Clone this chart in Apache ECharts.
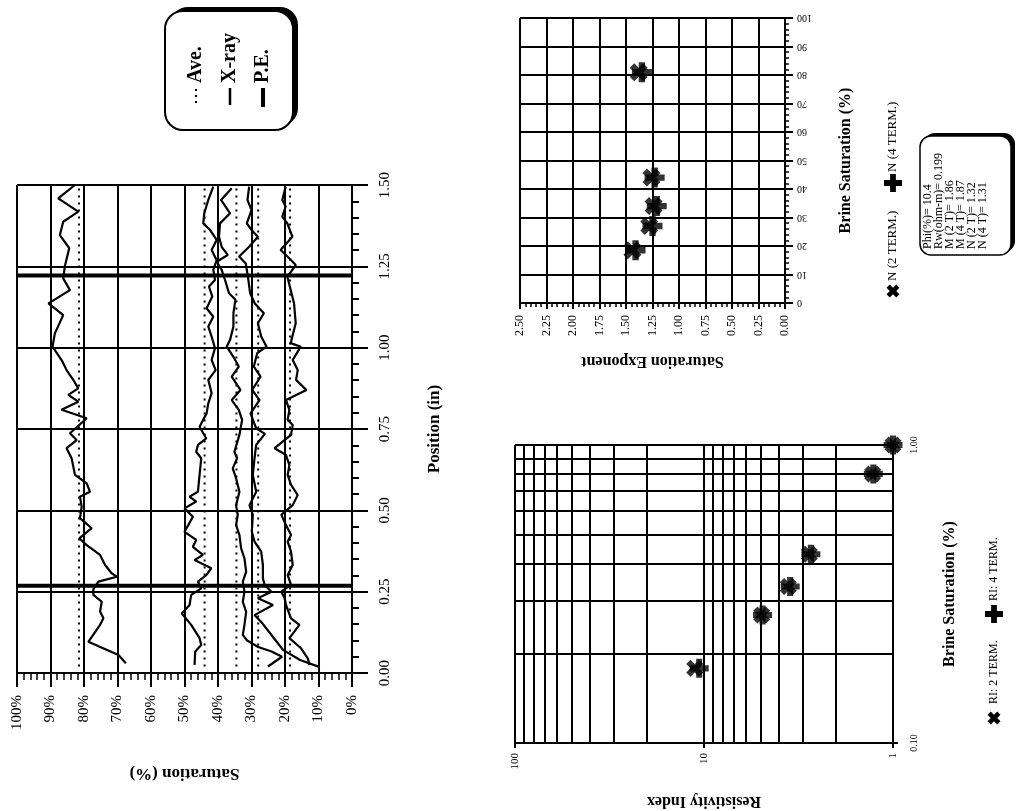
<!DOCTYPE html>
<html><head><meta charset="utf-8">
<script src="https://cdn.jsdelivr.net/npm/echarts@6/dist/echarts.min.js"></script>
<style>html,body{margin:0;padding:0;background:#fff}#c{width:1017px;height:811px}</style>
</head><body><div id="c"></div>
<script>
// ---------------- DATA ----------------
// Chart A: saturation profiles, points are [saturation %, position in]
const xray81 = [[82.7,1.500],[87.7,1.459],[81.7,1.418],[86.2,1.387],[87.2,1.346],[84.4,1.306],[85.7,1.251],[86.2,1.213],[84.2,1.177],[90.6,1.136],[86.2,1.100],[88.7,1.044],[89.4,1.003],[86.4,0.957],[85.2,0.931],[83.2,0.901],[81.7,0.875],[84.7,0.855],[81.7,0.834],[86.7,0.809],[79.2,0.783],[82.0,0.757],[84.2,0.737],[82.2,0.716],[85.2,0.691],[83.7,0.660],[82.7,0.609],[79.2,0.583],[78.2,0.557],[81.2,0.542],[80.7,0.511],[81.2,0.476],[77.7,0.445],[81.4,0.414],[79.2,0.393],[75.2,0.363],[73.7,0.332],[71.7,0.306],[70.2,0.296],[75.7,0.281],[77.2,0.258],[77.2,0.240],[74.7,0.219],[75.2,0.189],[74.2,0.168],[75.2,0.148],[78.7,0.096],[69.7,0.055],[67.5,0.030]];
const xray45 = [[41.4,1.495],[42.9,1.454],[44.1,1.413],[44.4,1.382],[42.4,1.362],[40.4,1.331],[41.9,1.300],[40.4,1.269],[41.4,1.239],[40.9,1.208],[42.7,1.188],[41.7,1.157],[43.4,1.121],[41.4,1.095],[42.9,1.065],[41.9,1.034],[40.9,0.998],[41.9,0.962],[40.7,0.931],[42.9,0.901],[41.9,0.860],[42.9,0.829],[43.4,0.798],[45.5,0.757],[43.5,0.721],[46.0,0.701],[46.5,0.680],[45.0,0.660],[45.5,0.609],[46.0,0.557],[48.5,0.542],[46.5,0.527],[50.0,0.506],[47.5,0.480],[50.0,0.434],[46.5,0.409],[47.5,0.388],[44.5,0.363],[47.0,0.347],[42.0,0.322],[43.5,0.301],[46.0,0.281],[45.0,0.260],[48.0,0.240],[48.5,0.209],[50.8,0.183],[48.0,0.148],[45.5,0.107],[45.0,0.086],[46.8,0.066],[47.0,0.025]];
const xray35 = [[35.9,1.490],[39.1,1.454],[36.4,1.413],[39.4,1.382],[39.7,1.341],[38.9,1.310],[37.1,1.285],[40.4,1.264],[38.9,1.239],[37.9,1.208],[36.7,1.167],[34.8,1.147],[35.4,1.106],[35.4,1.065],[36.4,1.024],[37.4,1.003],[35.4,0.972],[33.8,0.942],[35.9,0.911],[33.3,0.870],[35.9,0.839],[33.8,0.809],[32.8,0.778],[33.6,0.732],[35.1,0.680],[34.3,0.660],[35.6,0.629],[34.6,0.598],[33.6,0.557],[34.6,0.516],[34.1,0.486],[34.6,0.455],[33.6,0.424],[33.1,0.383],[32.1,0.352],[31.6,0.311],[32.6,0.281],[32.1,0.250],[32.6,0.219],[31.6,0.188],[32.1,0.148],[32.6,0.117],[31.3,0.100],[28.0,0.080],[24.0,0.066],[20.9,0.050],[25.1,0.020]];
const xray29 = [[30.7,1.495],[31.2,1.454],[30.0,1.423],[31.4,1.382],[30.0,1.362],[28.1,1.341],[30.7,1.310],[33.7,1.280],[31.7,1.259],[31.0,1.213],[30.4,1.167],[29.0,1.136],[26.3,1.106],[28.1,1.075],[27.1,1.034],[25.5,1.003],[28.3,0.983],[29.3,0.942],[27.3,0.911],[29.8,0.870],[27.6,0.839],[30.3,0.798],[28.6,0.752],[26.0,0.735],[28.6,0.701],[29.1,0.660],[29.6,0.609],[28.6,0.557],[30.6,0.516],[29.6,0.486],[29.9,0.434],[29.1,0.404],[27.1,0.373],[26.6,0.332],[26.6,0.291],[26.1,0.271],[24.1,0.250],[28.1,0.230],[23.6,0.209],[29.1,0.178],[27.1,0.157],[24.5,0.123],[20.6,0.071],[15.5,0.040],[9.6,0.018]];
const xray19 = [[19.8,1.495],[20.8,1.454],[19.8,1.434],[20.8,1.403],[19.3,1.382],[17.8,1.341],[21.3,1.300],[18.3,1.270],[16.8,1.254],[19.3,1.218],[18.3,1.177],[17.3,1.136],[16.8,1.075],[18.3,1.014],[15.3,1.003],[17.7,0.962],[16.2,0.931],[16.7,0.901],[13.6,0.870],[19.7,0.839],[18.7,0.809],[19.2,0.778],[17.7,0.762],[18.2,0.732],[23.1,0.691],[19.7,0.670],[18.7,0.639],[19.2,0.609],[18.2,0.578],[16.2,0.547],[17.7,0.516],[21.1,0.486],[19.7,0.455],[18.2,0.424],[19.2,0.404],[18.2,0.373],[17.7,0.332],[19.2,0.301],[18.2,0.271],[21.1,0.250],[20.1,0.230],[19.7,0.209],[18.2,0.168],[15.7,0.148],[17.2,0.127],[18.7,0.107],[15.2,0.076],[13.2,0.045],[12.7,0.025]];
const aveLevels = [81.5, 44, 34.5, 28, 18.5];      // dotted average saturation (%)
const aveSpan = [0.02, 1.5];                       // position range of average lines (in)
const peBoundaries = [0.268, 1.222];               // potential electrode positions (in)

// Chart B: saturation exponent vs brine saturation
const brineB = [18.5, 27, 34, 44, 81];
const nExp2 = [1.44, 1.28, 1.24, 1.26, 1.38];
const nExp4 = [1.41, 1.25, 1.21, 1.23, 1.35];

// Chart C: resistivity index vs brine saturation (log-log)
const brineC = [0.178, 0.269, 0.335, 0.43, 0.80, 1.0];
const ri2 = [11.2, 4.95, 3.58, 2.77, 1.28, 1.0];
const ri4 = [10.6, 4.90, 3.50, 2.72, 1.27, 1.0];
const riMinorTicks = [2,3,4,5,6,7,8,9,20,30,40,50,60,70,80,90];
const brineMinorTicks = [0.2,0.3,0.4,0.5,0.6,0.7,0.8,0.9];

const infoLines = ['Phi(%)= 10.4','Rw(ohm-m)= 0.199','M (2 T)= 1.86','M (4 T)= 1.87','N (2 T)= 1.32','N (4 T)= 1.31'];

// ---------------- STYLE ----------------
const F = 'Liberation Serif';
const BK = '#000';
const X_PTS = [[0,2.5],[2.5,0],[5,2.5],[7.5,0],[10,2.5],[7.5,5],[10,7.5],[7.5,10],[5,7.5],[2.5,10],[0,7.5],[2.5,5]];
const P_PTS = [[3.4,0],[6.6,0],[6.6,3.4],[10,3.4],[10,6.6],[6.6,6.6],[6.6,10],[3.4,10],[3.4,6.6],[0,6.6],[0,3.4],[3.4,3.4]];
const toPath = pts => 'path://M' + pts.map(p => p[0] + ',' + p[1]).join(' L') + ' Z';

function axisCommon(o) {
  return Object.assign({
    axisLine: {show: true, lineStyle: {color: BK, width: 2}},
    splitLine: {show: true, lineStyle: {color: BK, width: 2}},
    axisTick: {show: true, inside: false, length: 6, lineStyle: {color: BK, width: 2}},
    nameLocation: 'middle',
    nameTextStyle: {fontFamily: F, fontWeight: 'bold', fontSize: 16, color: BK},
  }, o);
}

const chart = echarts.init(document.getElementById('c'), null, {renderer: 'canvas'});

const series = [];
// chart A profiles
[xray81, xray45, xray35, xray29, xray19].forEach(d => {
  series.push({name: 'X-ray', type: 'line', xAxisIndex: 0, yAxisIndex: 0, data: d,
    symbol: 'none', silent: true, lineStyle: {color: BK, width: 2.2}, z: 5});
});
aveLevels.forEach(v => {
  series.push({name: 'Ave.', type: 'line', xAxisIndex: 0, yAxisIndex: 0,
    data: aveSpan.map(p => [v, p]), symbol: 'none', silent: true,
    lineStyle: {color: BK, width: 2, type: [2, 5]}, z: 4});
});
peBoundaries.forEach(v => {
  series.push({name: 'P.E.', type: 'line', xAxisIndex: 0, yAxisIndex: 0,
    data: [[0, v], [100, v]], symbol: 'none', silent: true,
    lineStyle: {color: BK, width: 4}, z: 6});
});
// chart B
series.push({name: 'N (2 TERM.)', type: 'scatter', xAxisIndex: 1, yAxisIndex: 1,
  data: brineB.map((b, i) => [nExp2[i], b]), symbol: toPath(X_PTS), symbolSize: 18,
  itemStyle: {color: BK}, z: 5});
series.push({name: 'N (4 TERM.)', type: 'scatter', xAxisIndex: 1, yAxisIndex: 1,
  data: brineB.map((b, i) => [nExp4[i], b]), symbol: toPath(P_PTS), symbolSize: 20,
  itemStyle: {color: BK}, z: 5});
// chart C
series.push({name: 'RI: 2 TERM.', type: 'scatter', xAxisIndex: 2, yAxisIndex: 2,
  data: brineC.map((b, i) => [ri2[i], b]), symbol: toPath(X_PTS), symbolSize: 17,
  itemStyle: {color: BK}, z: 5,
  markLine: {silent: true, symbol: ['none', 'none'], label: {show: false}, animation: false,
    lineStyle: {color: BK, width: 2, type: 'solid'},
    data: riMinorTicks.map(v => ({xAxis: v})).concat(brineMinorTicks.map(v => ({yAxis: v})))}});
series.push({name: 'RI: 4 TERM.', type: 'scatter', xAxisIndex: 2, yAxisIndex: 2,
  data: brineC.map((b, i) => [ri4[i], b]), symbol: toPath(P_PTS), symbolSize: 19,
  itemStyle: {color: BK}, z: 5});

// graphics (legends / info box), rotated like the page
const R90 = Math.PI / 2;
function vtext(x, y, text, size, bold) {
  return {type: 'text', x: x, y: y, rotation: R90, z: 20,
    style: {text: text, font: (bold ? 'bold ' : '') + size + 'px "' + F + '"', fill: BK,
      align: 'left', verticalAlign: 'middle', textAlign: 'left', textVerticalAlign: 'middle'}};
}
function sym(pts, cx, cy, s) {
  return {type: 'polygon', z: 20,
    shape: {points: pts.map(p => [cx - s / 2 + p[0] * s / 10, cy - s / 2 + p[1] * s / 10])},
    style: {fill: BK}};
}
const graphics = [
  // chart A legend box
  {type: 'rect', z: 18, shape: {x: 170, y: 7, width: 128, height: 119, r: 18}, style: {fill: BK}},
  {type: 'rect', z: 19, shape: {x: 165, y: 11, width: 128, height: 119, r: 18}, style: {fill: '#fff', stroke: BK, lineWidth: 2}},
  vtext(196, 83, 'Ave.', 20, true),
  vtext(230, 83, 'X-ray', 20, true),
  vtext(263, 83, 'P.E.', 20, true),
  {type: 'line', z: 20, shape: {x1: 196, y1: 89, x2: 196, y2: 103}, style: {stroke: BK, lineWidth: 2, lineDash: [2, 4]}},
  {type: 'line', z: 20, shape: {x1: 230, y1: 88, x2: 230, y2: 105}, style: {stroke: BK, lineWidth: 2.5}},
  {type: 'line', z: 20, shape: {x1: 263, y1: 88, x2: 263, y2: 107}, style: {stroke: BK, lineWidth: 4}},
  // chart B legend
  sym(X_PTS, 893, 291, 13),
  vtext(893, 281, 'N (2 TERM.)', 13, false),
  sym(P_PTS, 893, 183, 18),
  vtext(893, 172, 'N (4 TERM.)', 13, false),
  // info box
  {type: 'rect', z: 18, shape: {x: 924, y: 133, width: 91, height: 119, r: 11}, style: {fill: BK}},
  {type: 'rect', z: 19, shape: {x: 920, y: 136, width: 91, height: 119, r: 11}, style: {fill: '#fff', stroke: BK, lineWidth: 1.5}},
  // chart C legend
  sym(X_PTS, 994, 718, 13),
  vtext(994, 704, 'RI: 2 TERM.', 12, false),
  sym(P_PTS, 994, 614, 18),
  vtext(994, 601, 'RI: 4 TERM.', 12, false),
];
infoLines.forEach((t, i) => graphics.push(vtext(928 + i * 10.9, 249, t, 12, false)));

const option = {
  animation: false,
  backgroundColor: '#fff',
  grid: [
    {left: 17, top: 185, width: 335, height: 488, outerBoundsMode: 'none', containLabel: false},
    {left: 520, top: 18, width: 265, height: 285, outerBoundsMode: 'none', containLabel: false},
    {left: 515, top: 445, width: 378, height: 298, outerBoundsMode: 'none', containLabel: false},
  ],
  xAxis: [
    axisCommon({gridIndex: 0, type: 'value', min: 0, max: 100, interval: 10, inverse: true, position: 'bottom',
      name: 'Saturation (%)', nameRotate: 180, nameGap: 92,
      nameTextStyle: {fontFamily: F, fontWeight: 'bold', fontSize: 17, color: BK},
      axisTick: {show: true, length: 14, lineStyle: {color: BK, width: 2}},
      minorTick: {show: true, splitNumber: 5, length: 7, lineStyle: {color: BK, width: 1.5}},
      axisLabel: {rotate: 90, margin: 22, fontFamily: F, fontSize: 15, color: BK, formatter: v => v + '%'}}),
    axisCommon({gridIndex: 1, type: 'value', min: 0, max: 2.5, interval: 0.25, inverse: true, position: 'bottom',
      name: 'Saturation Exponent', nameRotate: 180, nameGap: 50,
      axisTick: {show: true, length: 6, lineStyle: {color: BK, width: 2}},
      minorTick: {show: true, splitNumber: 5, length: 4, lineStyle: {color: BK, width: 1.5}},
      axisLabel: {rotate: 90, margin: 12, fontFamily: F, fontSize: 12, color: BK, formatter: v => v.toFixed(2)}}),
    axisCommon({gridIndex: 2, type: 'log', logBase: 10, min: 1, max: 100, inverse: true, position: 'bottom',
      name: 'Resistivity Index', nameRotate: 180, nameGap: 50,
      axisTick: {show: true, length: 5, lineStyle: {color: BK, width: 2}},
      axisLabel: {rotate: 90, margin: 10, fontFamily: F, fontSize: 11, color: BK}}),
  ],
  yAxis: [
    axisCommon({gridIndex: 0, type: 'value', min: 0, max: 1.5, interval: 0.25, position: 'right',
      name: 'Position (in)', nameRotate: 90, nameGap: 74,
      nameTextStyle: {fontFamily: F, fontWeight: 'bold', fontSize: 17, color: BK},
      axisTick: {show: true, length: 16, lineStyle: {color: BK, width: 2}},
      minorTick: {show: true, splitNumber: 5, length: 7, lineStyle: {color: BK, width: 2}},
      axisLabel: {rotate: 90, margin: 26, fontFamily: F, fontSize: 15, color: BK, formatter: v => v.toFixed(2)}}),
    axisCommon({gridIndex: 1, type: 'value', min: 0, max: 100, interval: 10, position: 'right',
      name: 'Brine Saturation (%)', nameRotate: 90, nameGap: 53,
      axisTick: {show: true, length: 8, lineStyle: {color: BK, width: 2}},
      minorTick: {show: true, splitNumber: 5, length: 4, lineStyle: {color: BK, width: 1.5}},
      axisLabel: {rotate: 180, margin: 12, fontFamily: F, fontSize: 10, color: BK}}),
    axisCommon({gridIndex: 2, type: 'log', logBase: 10, min: 0.1, max: 1, position: 'right',
      name: 'Brine Saturation (%)', nameRotate: 90, nameGap: 49,
      axisTick: {show: true, length: 5, lineStyle: {color: BK, width: 2}},
      axisLabel: {rotate: 90, margin: 16, fontFamily: F, fontSize: 10, color: BK, formatter: v => v.toFixed(2)}}),
  ],
  series: series,
  graphic: {elements: graphics},
};
chart.setOption(option);
</script></body></html>
